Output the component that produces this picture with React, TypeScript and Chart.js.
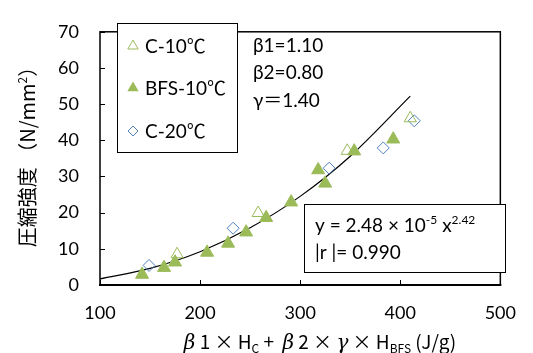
import React, { useEffect, useRef } from "react";
import { Chart, registerables } from "chart.js";

Chart.register(...registerables);

// ---- data ----
const xTickValues = [100, 200, 300, 400, 500];
const yTickValues = [0, 10, 20, 30, 40, 50, 60, 70];

const c10X = [177, 258, 347, 410];
const c10Y = [8.5, 19.9, 37.1, 46.1];

const bfsX = [142, 164, 175, 207, 228, 246, 266, 291, 318, 325, 354, 393];
const bfsY = [2.9, 4.8, 6.3, 9.0, 11.5, 14.6, 18.6, 22.9, 31.8, 28.1, 37.0, 40.3];

const c20X = [149, 233, 329, 383, 414];
const c20Y = [5.4, 15.7, 32.3, 37.9, 45.4];

// fitted power curve
const fitX = [100, 150, 200, 250, 300, 350, 410];
const fitY = [1.7, 4.6, 9.2, 15.8, 24.5, 35.6, 52.2];

const legendLabels = ["C-10℃", "BFS-10℃", "C-20℃"];
const paramLines = ["β1=1.10", "β2=0.80", "γ＝1.40"];

const GREEN = "#9BBB59";
const BLUE = "#4F81BD";
const FONT = "Lato, 'Noto Sans CJK JP', sans-serif";
const JFONT = "'Noto Sans CJK JP', sans-serif";
const SFONT = "'DejaVu Serif', serif";

const toPts = (xs: number[], ys: number[]) => xs.map((x, i) => ({ x, y: ys[i] }));

type Part = { t: string; size: number; dy?: number; font?: string; italic?: boolean };

function fontOf(p: Part) {
  return `${p.italic ? "italic " : ""}${p.size}px ${p.font || FONT}`;
}

function drawRich(ctx: CanvasRenderingContext2D, parts: Part[], x: number, y: number, align: "left" | "center") {
  let total = 0;
  const widths = parts.map((p) => {
    ctx.font = fontOf(p);
    const w = ctx.measureText(p.t).width;
    total += w;
    return w;
  });
  let cx = align === "center" ? x - total / 2 : x;
  ctx.textAlign = "left";
  ctx.textBaseline = "alphabetic";
  parts.forEach((p, i) => {
    ctx.font = fontOf(p);
    ctx.fillText(p.t, cx, y + (p.dy || 0));
    cx += widths[i];
  });
}

function triangle(ctx: CanvasRenderingContext2D, x: number, y: number, r: number, fill: boolean) {
  ctx.beginPath();
  ctx.moveTo(x, y - r);
  ctx.lineTo(x + r * Math.sin(Math.PI / 3), y + r / 2);
  ctx.lineTo(x - r * Math.sin(Math.PI / 3), y + r / 2);
  ctx.closePath();
  if (fill) {
    ctx.fillStyle = GREEN;
    ctx.fill();
  } else {
    ctx.strokeStyle = GREEN;
    ctx.lineWidth = 1;
    ctx.stroke();
  }
}

function diamond(ctx: CanvasRenderingContext2D, x: number, y: number, r: number) {
  ctx.beginPath();
  ctx.moveTo(x, y - r);
  ctx.lineTo(x + r, y);
  ctx.lineTo(x, y + r);
  ctx.lineTo(x - r, y);
  ctx.closePath();
  ctx.strokeStyle = BLUE;
  ctx.lineWidth = 1;
  ctx.stroke();
}

const decorPlugin = {
  id: "decor",
  afterDatasetsDraw(chart: any) {
    const ctx: CanvasRenderingContext2D = chart.ctx;
    const { left, right, top, bottom } = chart.chartArea;
    const xs = chart.scales.x;
    const ys = chart.scales.y;
    ctx.save();
    // frame
    ctx.strokeStyle = "#000";
    ctx.lineWidth = 1.5;
    ctx.strokeRect(left, top, right - left, bottom - top);
    ctx.lineWidth = 2;
    ctx.beginPath();
    ctx.moveTo(left - 1, bottom);
    ctx.lineTo(right + 1, bottom);
    ctx.stroke();
    // inside tick marks
    ctx.lineWidth = 1;
    ctx.beginPath();
    xTickValues.forEach((v) => {
      const px = Math.round(xs.getPixelForValue(v)) + 0.5;
      ctx.moveTo(px, bottom);
      ctx.lineTo(px, bottom - 5);
    });
    yTickValues.forEach((v) => {
      const py = Math.round(ys.getPixelForValue(v)) + 0.5;
      ctx.moveTo(left, py);
      ctx.lineTo(left + 5, py);
    });
    ctx.stroke();

    // legend box
    const lx = 117, ly = 23, lw = 120, lh = 129;
    ctx.fillStyle = "#fff";
    ctx.fillRect(lx, ly, lw, lh);
    ctx.strokeStyle = "#000";
    ctx.lineWidth = 1;
    ctx.strokeRect(lx + 0.5, ly + 0.5, lw, lh);
    const rows = [46, 88, 131];
    triangle(ctx, 133, rows[0], 6, false);
    triangle(ctx, 133, rows[1], 6.5, true);
    diamond(ctx, 133, rows[2], 5);
    ctx.fillStyle = "#000";
    ctx.font = `19px ${FONT}`;
    ctx.textAlign = "left";
    ctx.textBaseline = "middle";
    legendLabels.forEach((t, i) => ctx.fillText(t, 145, rows[i] + 1));

    // parameters
    ctx.font = `19px ${FONT}`;
    const prow = [46, 73, 101];
    paramLines.forEach((t, i) => ctx.fillText(t, 253, prow[i]));

    // equation box
    ctx.fillStyle = "#fff";
    ctx.fillRect(304, 204, 201, 68);
    ctx.strokeStyle = "#000";
    ctx.strokeRect(304.5, 204.5, 201, 68);
    ctx.fillStyle = "#000";
    drawRich(
      ctx,
      [
        { t: "y = 2.48 × 10", size: 19 },
        { t: "-5", size: 12, dy: -8 },
        { t: " x", size: 19 },
        { t: "2.42", size: 12, dy: -8 },
      ],
      315,
      232,
      "left"
    );
    drawRich(ctx, [{ t: "|r |= 0.990", size: 19 }], 315, 259, "left");

    // x axis title
    drawRich(
      ctx,
      [
        { t: "β", size: 20, font: SFONT, italic: true },
        { t: " 1 × H", size: 19, font: JFONT },
        { t: "C", size: 12, dy: 4, font: JFONT },
        { t: " +  ", size: 19, font: JFONT },
        { t: "β", size: 20, font: SFONT, italic: true },
        { t: " 2 × ", size: 19, font: JFONT },
        { t: "γ", size: 20, font: SFONT, italic: true },
        { t: " × H", size: 19, font: JFONT },
        { t: "BFS", size: 12, dy: 4, font: JFONT },
        { t: " (J/g)", size: 19, font: JFONT },
      ],
      320,
      349,
      "center"
    );

    // y axis title
    ctx.save();
    ctx.translate(35, 152);
    ctx.rotate(-Math.PI / 2);
    drawRich(
      ctx,
      [
        { t: "圧縮強度 （N/mm", size: 20, font: JFONT },
        { t: "2", size: 12, dy: -8, font: JFONT },
        { t: "）", size: 20, font: JFONT },
      ],
      0,
      0,
      "center"
    );
    ctx.restore();

    ctx.restore();
  },
};

export default function App() {
  const ref = useRef<HTMLCanvasElement | null>(null);
  useEffect(() => {
    if (!ref.current) return;
    const chart = new Chart(ref.current, {
      type: "scatter",
      data: {
        datasets: [
          {
            type: "line",
            label: "fit",
            data: toPts(fitX, fitY),
            borderColor: "#000",
            borderWidth: 1.2,
            pointRadius: 0,
            cubicInterpolationMode: "monotone",
            fill: false,
            order: 5,
          } as any,
          {
            label: legendLabels[0],
            data: toPts(c10X, c10Y),
            pointStyle: "triangle",
            pointRadius: 7,
            backgroundColor: "rgba(0,0,0,0)",
            borderColor: GREEN,
            borderWidth: 1,
          },
          {
            label: legendLabels[1],
            data: toPts(bfsX, bfsY),
            pointStyle: "triangle",
            pointRadius: 7.5,
            backgroundColor: GREEN,
            borderColor: GREEN,
            borderWidth: 1,
          },
          {
            label: legendLabels[2],
            data: toPts(c20X, c20Y),
            pointStyle: "rectRot",
            pointRadius: 6,
            backgroundColor: "rgba(0,0,0,0)",
            borderColor: BLUE,
            borderWidth: 1,
          },
        ],
      },
      options: {
        animation: false,
        responsive: false,
        events: [],
        layout: { padding: { top: 18, right: 23, left: 0, bottom: 0 } },
        plugins: { legend: { display: false }, tooltip: { enabled: false } },
        scales: {
          x: {
            type: "linear",
            min: 100,
            max: 500,
            afterBuildTicks: (s: any) => {
              s.ticks = xTickValues.map((v) => ({ value: v }));
            },
            afterFit: (s: any) => {
              s.height = 68;
            },
            grid: { display: false, drawTicks: false },
            border: { display: false },
            ticks: { padding: 17, color: "#000", font: { size: 18, family: FONT } },
          },
          y: {
            type: "linear",
            min: 0,
            max: 70,
            afterBuildTicks: (s: any) => {
              s.ticks = yTickValues.map((v) => ({ value: v }));
            },
            afterFit: (s: any) => {
              s.width = 100;
            },
            grid: { display: false, drawTicks: false },
            border: { display: false },
            ticks: { padding: 21, color: "#000", font: { size: 18, family: FONT } },
          },
        },
      },
      plugins: [decorPlugin],
    });
    return () => chart.destroy();
  }, []);
  return (
    <div style={{ position: "absolute", left: 0, top: 0, width: 533, height: 353, background: "#fff" }}>
      <canvas ref={ref} width={533} height={353} style={{ width: 533, height: 353 }} />
    </div>
  );
}
